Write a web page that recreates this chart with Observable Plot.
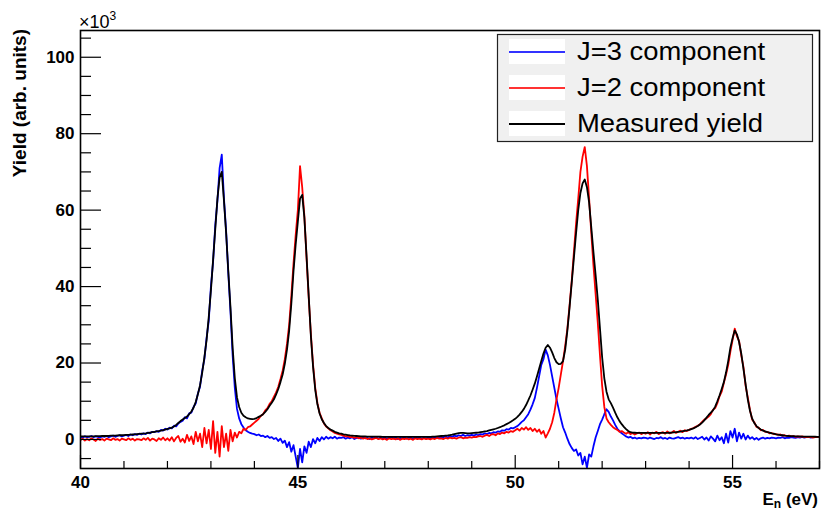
<!DOCTYPE html>
<html><head><meta charset="utf-8">
<script src="https://cdn.jsdelivr.net/npm/d3@7"></script>
<script src="https://cdn.jsdelivr.net/npm/@observablehq/plot@0.6"></script>
<style>
body{margin:0;background:#fff}
svg{font-family:"Liberation Sans",Arial,Helvetica,sans-serif}
</style>
</head><body><div id="chart"></div>
<script>
// Histogram bins: E = 40.00 + i*0.05 eV ; values in units of 10^3
const eStart = 40, eStep = 0.05;

const measured = [
0.8,0.8,0.8,0.8,0.8,0.8,0.8,0.85,0.85,0.85,0.9,0.9,0.9,0.95,1.0,1.0,1.0,1.05,1.1,1.1,
1.15,1.2,1.2,1.25,1.3,1.35,1.4,1.45,1.5,1.55,1.6,1.7,1.8,1.9,2.0,2.1,2.2,2.3,2.45,2.6,
2.75,2.9,3.1,3.4,3.8,4.3,4.8,5.2,5.6,6.0,6.6,7.3,8.3,9.8,11.8,14.2,17.5,21.5,26.0,32.0,
39.0,47.0,55.0,63.0,68.5,70.0,62.5,54.0,44.0,34.5,24.0,16.0,11.0,8.5,7.0,6.2,5.8,5.5,5.4,5.3,
5.4,5.6,5.9,6.2,6.6,7.2,7.9,8.8,9.6,10.5,11.8,13.2,15.0,17.0,19.8,23.5,28.5,35.5,44.0,51.0,
57.0,63.0,64.0,58.0,48.0,37.5,27.0,19.0,13.0,9.2,6.8,5.3,4.3,3.5,3.0,2.6,2.3,2.0,1.8,1.6,
1.5,1.35,1.25,1.15,1.05,1.0,0.95,0.9,0.85,0.8,0.8,0.78,0.76,0.75,0.74,0.73,0.72,0.72,0.71,0.7,
0.7,0.7,0.7,0.7,0.7,0.7,0.7,0.7,0.7,0.7,0.7,0.7,0.7,0.7,0.7,0.7,0.7,0.7,0.7,0.7,
0.7,0.7,0.75,0.75,0.8,0.85,0.9,0.95,1.0,1.05,1.15,1.25,1.4,1.55,1.65,1.7,1.7,1.65,1.6,1.6,
1.65,1.7,1.75,1.8,1.9,2.0,2.1,2.2,2.35,2.5,2.65,2.8,3.0,3.2,3.45,3.7,4.0,4.3,4.65,5.0,
5.4,5.9,6.5,7.2,8.0,9.0,10.2,11.5,13.0,14.6,16.5,18.5,20.5,22.5,24.0,24.7,24.0,22.8,21.3,20.2,
19.7,19.8,20.5,23.5,28.5,34.5,41.0,47.5,54.0,60.0,64.5,67.0,68.0,66.0,62.0,55.5,49.0,43.0,36.5,29.0,
21.5,16.0,12.5,10.5,9.5,8.3,7.0,5.8,4.8,4.0,3.3,2.7,2.2,1.9,1.8,1.75,1.7,1.7,1.7,1.7,
1.7,1.7,1.7,1.7,1.7,1.7,1.7,1.7,1.7,1.7,1.7,1.75,1.8,1.85,1.9,2.0,2.05,2.15,2.25,2.35,
2.5,2.7,2.9,3.2,3.5,3.9,4.4,5.0,5.7,6.4,7.0,7.6,8.6,10.0,11.5,13.2,15.0,17.5,20.5,24.0,
26.5,28.5,27.5,25.5,22.5,18.5,14.5,10.5,7.5,5.5,4.3,3.5,3.0,2.6,2.3,2.1,1.9,1.8,1.6,1.5,
1.35,1.25,1.15,1.1,1.0,0.95,0.9,0.88,0.85,0.82,0.8,0.78,0.76,0.75,0.74,0.73,0.72,0.72,0.71,0.7,
0.7];

const j3 = [
0.7,0.5,0.8,0.6,0.7,0.9,0.6,0.8,0.7,0.5,0.8,0.7,0.9,0.6,0.8,1.0,0.7,0.9,1.1,0.8,
1.0,1.2,0.9,1.3,1.1,1.4,1.2,1.5,1.3,1.6,1.4,1.8,1.6,2.0,1.9,2.2,2.0,2.5,2.3,2.8,
2.6,3.1,2.9,3.6,3.4,4.2,4.6,4.9,5.8,5.5,6.8,7.0,8.5,9.4,12.0,13.8,18.0,21.0,26.5,31.0,
40.0,46.5,56.0,62.5,71.0,74.5,63.0,54.5,43.5,33.5,22.0,13.5,8.0,5.5,4.0,3.1,2.4,2.0,1.7,1.5,
1.4,1.1,1.3,0.9,1.0,0.6,0.9,0.4,0.6,0.1,0.4,-0.4,0.2,-0.9,-0.3,-2.0,-0.7,-3.2,-1.5,-4.5,
-7.5,-2.5,-6.0,-1.8,-3.5,-0.6,-2.0,0.1,-1.0,0.4,-0.4,0.6,0.0,0.7,0.2,0.6,0.3,0.7,0.2,0.5,
0.4,0.6,0.2,0.5,0.3,0.6,0.1,0.4,0.5,0.2,0.6,0.3,0.4,0.1,0.5,0.3,0.6,0.2,0.4,0.3,
0.5,0.2,0.4,0.6,0.3,0.5,0.1,0.4,0.3,0.6,0.2,0.5,0.4,0.2,0.6,0.3,0.5,0.2,0.4,0.3,
0.5,0.3,0.6,0.4,0.5,0.7,0.4,0.6,0.8,0.5,0.9,0.7,1.0,0.8,1.1,0.9,1.2,0.9,1.1,1.0,
1.2,1.0,1.3,1.1,1.4,1.3,1.6,1.4,1.7,1.6,1.9,1.8,2.1,2.0,2.4,2.3,2.7,2.6,3.0,2.9,
3.2,3.5,4.0,4.6,5.0,5.8,6.6,7.8,9.2,10.8,13.5,16.5,19.5,21.0,23.5,22.0,19.5,16.5,13.5,10.5,
8.0,5.5,3.2,1.8,0.2,-1.2,-2.2,-3.0,-2.6,-4.2,-3.5,-6.5,-4.5,-7.4,-3.9,-4.5,-1.8,0.5,2.2,4.0,
5.2,6.6,7.9,7.2,6.0,5.0,3.8,2.8,2.2,1.6,1.2,0.8,0.5,0.7,0.3,0.5,0.2,0.4,0.3,0.5,
0.4,0.2,0.5,0.3,0.1,0.4,0.3,0.6,0.2,0.4,0.1,0.5,0.3,0.2,0.4,0.6,0.3,0.5,0.2,0.4,
0.3,0.5,0.2,0.6,0.1,0.4,0.7,0.0,0.5,-0.3,0.8,0.2,-0.5,1.0,-0.2,0.6,-1.0,1.5,-0.8,2.2,
0.5,2.8,-0.5,1.8,0.2,1.5,0.0,1.0,0.2,0.6,0.0,0.4,-0.1,0.3,0.5,0.2,0.4,0.3,0.5,0.4,
0.3,0.5,0.4,0.6,0.3,0.5,0.4,0.6,0.5,0.4,0.6,0.5,0.7,0.5,0.6,0.7,0.5,0.6,0.7,0.6,
0.6];

const j2 = [
-0.1,0.2,-0.3,0.1,-0.2,0.3,0.0,-0.4,0.2,-0.1,0.1,-0.3,0.2,0.0,-0.2,0.3,-0.1,0.1,-0.3,0.2,
0.0,-0.2,0.3,-0.1,0.2,-0.3,0.1,0.0,-0.2,0.3,-0.1,0.4,-0.3,0.2,0.0,-0.4,0.3,-0.1,0.5,-0.2,
0.3,-0.3,0.6,-0.5,0.4,0.9,-0.6,0.2,-0.8,1.2,-0.4,0.8,-1.2,2.0,-0.5,1.5,-2.0,3.0,-1.0,2.5,
-2.5,4.8,-3.5,2.0,-4.5,3.5,-2.0,1.5,-3.0,2.5,-0.5,1.8,0.5,2.0,1.6,2.8,2.5,3.2,3.4,3.9,
4.4,4.9,5.4,6.2,6.6,7.6,8.2,9.3,10.0,11.2,12.3,13.8,15.8,18.0,21.0,25.0,30.0,37.5,46.0,53.5,
60.0,71.5,66.0,58.5,47.5,37.0,27.5,19.5,13.5,9.5,7.0,5.5,4.2,3.4,2.9,2.4,2.1,1.7,1.5,1.3,
1.2,1.0,0.8,0.9,0.6,0.7,0.4,0.6,0.3,0.5,0.2,0.4,0.1,0.3,0.0,0.2,0.4,0.1,0.3,0.0,
0.2,-0.1,0.3,0.1,0.2,0.0,0.3,-0.1,0.2,0.1,0.3,0.0,0.2,-0.1,0.3,0.1,0.2,0.0,0.3,0.1,
0.2,0.0,0.3,0.1,0.4,0.2,0.3,0.1,0.4,0.2,0.5,0.3,0.4,0.2,0.5,0.6,0.3,0.5,0.4,0.6,
0.5,0.7,0.6,0.8,0.9,0.7,1.0,1.2,0.9,1.3,1.4,1.1,1.6,1.4,1.8,1.6,2.0,1.8,2.2,2.0,
2.4,2.8,2.3,3.0,2.6,3.2,2.5,3.0,2.2,2.8,2.0,2.6,1.5,2.2,0.5,1.6,2.8,4.5,7.0,10.5,
13.5,17.0,20.5,24.5,29.0,35.0,41.5,49.0,56.5,63.0,70.0,74.0,76.5,71.5,63.0,54.0,45.5,38.0,30.5,22.0,
14.0,8.5,5.5,4.5,3.8,3.2,2.8,2.5,2.0,2.2,1.8,1.5,1.9,1.4,1.7,1.3,1.6,1.8,1.4,1.7,
1.5,1.9,1.3,1.8,1.6,2.0,1.4,1.7,1.9,1.5,2.1,1.6,1.8,2.2,1.7,2.0,2.3,1.9,2.4,2.2,
2.5,2.8,3.0,3.3,3.6,4.0,4.6,5.2,5.5,6.0,6.6,7.8,8.2,9.5,11.3,12.5,14.8,17.0,19.5,23.0,
26.0,29.0,27.0,25.8,22.0,19.0,14.0,11.0,7.8,5.2,4.5,3.3,3.1,2.4,2.5,2.0,2.0,1.6,1.7,1.4,
1.4,1.2,1.3,1.0,1.1,0.9,1.0,0.8,0.9,0.7,0.8,0.7,0.8,0.6,0.7,0.6,0.7,0.5,0.6,0.6,
0.6];

const seriesNames = ["J=3 component", "J=2 component", "Measured yield"];
const seriesColors = ["#0000ff", "#ff0000", "#000000"];
const xMajor = [40, 45, 50, 55];
const xMinor = [41, 42, 43, 44, 46, 47, 48, 49, 51, 52, 53, 54, 56, 57];
const yMajor = [0, 20, 40, 60, 80, 100];
const yMinor = [-5, 5, 10, 15, 25, 30, 35, 45, 50, 55, 65, 70, 75, 85, 90, 95, 105];

const rows = [];
[[seriesNames[0], j3], [seriesNames[1], j2], [seriesNames[2], measured]].forEach(([name, arr]) =>
  arr.forEach((v, i) => rows.push({series: name, E: +(eStart + i * eStep).toFixed(2), y: v})));

const W = 821, H = 511, mL = 80, mR = 2, mT = 30, mB = 43;
const iw = W - mL - mR, ih = H - mT - mB;

const svg = Plot.plot({
  width: W, height: H,
  marginLeft: mL, marginRight: mR, marginTop: mT, marginBottom: mB,
  style: {background: "#fff", fontFamily: '"Liberation Sans",Arial,sans-serif', color: "#000"},
  x: {domain: [40, 57]},
  y: {domain: [-7.6, 107]},
  color: {domain: seriesNames, range: seriesColors},
  marks: [
    Plot.line(rows, {x: "E", y: "y", z: "series", stroke: "series", strokeWidth: 1.8, clip: true}),
    Plot.ruleX(xMajor, {insetTop: ih - 13, stroke: "#000", strokeWidth: 1.2}),
    Plot.ruleX(xMinor, {insetTop: ih - 7, stroke: "#000", strokeWidth: 1.2}),
    Plot.ruleY(yMajor, {insetRight: iw - 21, stroke: "#000", strokeWidth: 1.2}),
    Plot.ruleY(yMinor, {insetRight: iw - 11, stroke: "#000", strokeWidth: 1.2}),
    Plot.axisX(xMajor, {tickSize: 0, tickPadding: 7, fontSize: 17, fontWeight: "bold", label: null, tickFormat: d => String(d)}),
    Plot.axisY(yMajor, {tickSize: 0, tickPadding: 6, fontSize: 17, fontWeight: "bold", label: null, tickFormat: d => String(d)}),
    Plot.frame({stroke: "#000", strokeWidth: 1.6})
  ]
});

const s = d3.select(svg);
// x10^3 multiplier
const mult = s.append("text").attr("x", 79).attr("y", 28).attr("text-anchor", "start")
  .attr("font-size", 18).attr("fill", "#000");
mult.append("tspan").text("×10");
mult.append("tspan").attr("font-size", 12).attr("dy", -8).text("3");

// y title
s.append("text")
  .attr("transform", "translate(26,29) rotate(-90)")
  .attr("text-anchor", "end").attr("font-size", 19).attr("font-weight", "bold").attr("fill", "#000")
  .text("Yield (arb. units)");

// x title
const xt = s.append("text").attr("x", 818).attr("y", 505).attr("text-anchor", "end")
  .attr("font-size", 17).attr("font-weight", "bold").attr("fill", "#000");
xt.append("tspan").text("E");
xt.append("tspan").attr("font-size", 12).attr("dy", 3).text("n");
xt.append("tspan").attr("dy", -3).text(" (eV)");

// legend
const lg = s.append("g");
lg.append("rect").attr("x", 497.5).attr("y", 34.5).attr("width", 315).attr("height", 107)
  .attr("fill", "#f0f0f0").attr("stroke", "#222").attr("stroke-width", 1.2);
seriesNames.forEach((name, i) => {
  const cy = 52 + 36 * i;
  lg.append("rect").attr("x", 509).attr("y", cy - 13).attr("width", 56).attr("height", 25).attr("fill", "#fff");
  lg.append("rect").attr("x", 509).attr("y", cy - 1).attr("width", 56).attr("height", 2)
    .attr("fill", seriesColors[i]).attr("fill-opacity", i === 2 ? 1 : 0.8);
  lg.append("text").attr("x", 577).attr("y", cy + 8).attr("text-anchor", "start")
    .attr("font-size", 26).attr("fill", "#000")
    .attr("textLength", i === 2 ? 186 : 188).attr("lengthAdjust", "spacingAndGlyphs").text(name);
});

document.getElementById("chart").appendChild(svg);
</script>
</body></html>
